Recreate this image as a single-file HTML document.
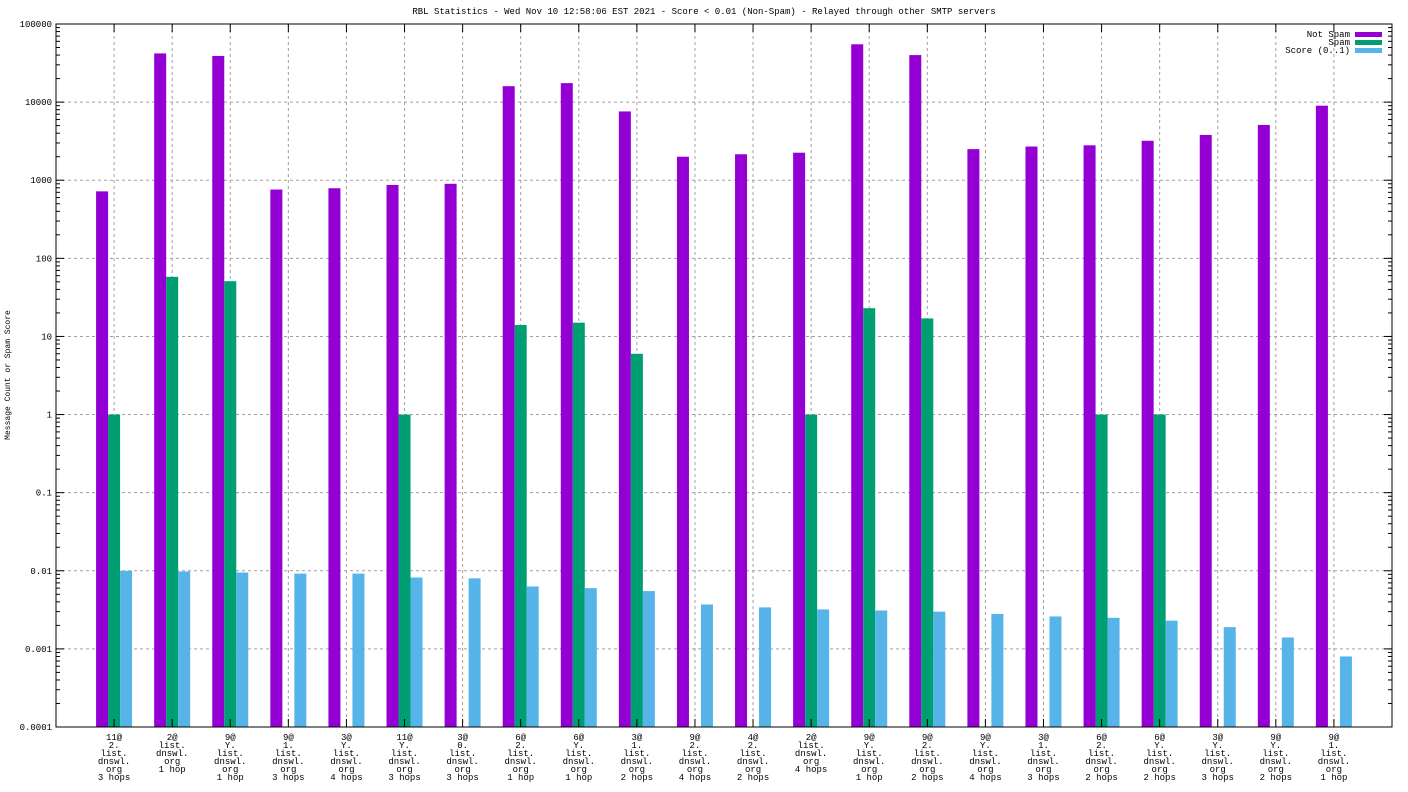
<!DOCTYPE html>
<html><head><meta charset="utf-8"><style>
body{margin:0;background:#fff}
svg{display:block;font-family:"Liberation Mono",monospace;font-size:9px}
</style></head><body>
<svg id="chart" width="1408" height="792" viewBox="0 0 1408 792" xmlns="http://www.w3.org/2000/svg">
<text x="704" y="14" text-anchor="middle">RBL Statistics - Wed Nov 10 12:58:06 EST 2021 - Score &lt; 0.01 (Non-Spam) - Relayed through other SMTP servers</text>
<text transform="translate(10,375) rotate(-90)" text-anchor="middle" font-size="8">Message Count or Spam Score</text>
<g id="grid"></g><g id="bars"></g><g id="axes"></g>
<g>
<text x="1350" y="37" text-anchor="end">Not Spam</text><rect x="1355" y="32" width="27" height="5" fill="#9400d3"/>
<text x="1350" y="45" text-anchor="end">Spam</text><rect x="1355" y="40" width="27" height="5" fill="#009e73"/>
<text x="1350" y="53" text-anchor="end">Score (0..1)</text><rect x="1355" y="48" width="27" height="5" fill="#56b4e9"/>
</g>
</svg>
<script>
const categories=[["11@","2.","list.","dnswl.","org","3 hops"],["2@","list.","dnswl.","org","1 hop"],["9@","Y.","list.","dnswl.","org","1 hop"],["9@","1.","list.","dnswl.","org","3 hops"],["3@","Y.","list.","dnswl.","org","4 hops"],["11@","Y.","list.","dnswl.","org","3 hops"],["3@","0.","list.","dnswl.","org","3 hops"],["6@","2.","list.","dnswl.","org","1 hop"],["6@","Y.","list.","dnswl.","org","1 hop"],["3@","1.","list.","dnswl.","org","2 hops"],["9@","2.","list.","dnswl.","org","4 hops"],["4@","2.","list.","dnswl.","org","2 hops"],["2@","list.","dnswl.","org","4 hops"],["9@","Y.","list.","dnswl.","org","1 hop"],["9@","2.","list.","dnswl.","org","2 hops"],["9@","Y.","list.","dnswl.","org","4 hops"],["3@","1.","list.","dnswl.","org","3 hops"],["6@","2.","list.","dnswl.","org","2 hops"],["6@","Y.","list.","dnswl.","org","2 hops"],["3@","Y.","list.","dnswl.","org","3 hops"],["9@","Y.","list.","dnswl.","org","2 hops"],["9@","1.","list.","dnswl.","org","1 hop"]];
const notSpam=[720,42000,39000,760,790,870,900,16000,17500,7600,2000,2150,2250,55000,40000,2500,2700,2800,3200,3800,5100,9000];
const spam=[1,58,51,0,0,1,0,14,15,6,0,0,1,23,17,0,0,1,1,0,0,0];
const score=[0.01,0.0098,0.0095,0.0092,0.0092,0.0082,0.008,0.0063,0.006,0.0055,0.0037,0.0034,0.0032,0.0031,0.003,0.0028,0.0026,0.0025,0.0023,0.0019,0.0014,0.0008];
const yTicks=["0.0001","0.001","0.01","0.1","1","10","100","1000","10000","100000"];
const NS="http://www.w3.org/2000/svg";
const L=56,R=1392,T=24,B=727;
const xs=i=>L+(R-L)/(categories.length+1)*(i+1);
const ys=v=>B-(Math.log10(v)+4)/9*(B-T);
function mk(tag,attrs,parent){const e=document.createElementNS(NS,tag);for(const k in attrs)e.setAttribute(k,attrs[k]);parent.appendChild(e);return e;}
const grid=document.getElementById('grid'),bars=document.getElementById('bars'),axes=document.getElementById('axes');
yTicks.forEach(t=>{const y=ys(parseFloat(t));
 const g=mk('line',{x1:L,x2:R,y1:y,y2:y,stroke:'#a0a0a0','stroke-dasharray':'3,3'},grid);
 
 
 const tx=mk('text',{x:L-4,y:y+3,'text-anchor':'end'},axes);tx.textContent=t;
 
 
 mk('line',{x1:L,x2:L+8,y1:y,y2:y,stroke:'#000'},axes);mk('line',{x1:R,x2:R-8,y1:y,y2:y,stroke:'#000'},axes);
 if(parseFloat(t)<100000)for(let m=2;m<10;m++){const ym=ys(parseFloat(t)*m);mk('line',{x1:L,x2:L+4,y1:ym,y2:ym,stroke:'#000'},axes);mk('line',{x1:R,x2:R-4,y1:ym,y2:ym,stroke:'#000'},axes);}
});
const cols=['#9400d3','#009e73','#56b4e9'],series=[notSpam,spam,score],names=['not-spam','spam','score'];
categories.forEach((c,i)=>{const x=xs(i);
 const g=mk('line',{x1:x,x2:x,y1:T,y2:B,stroke:'#a0a0a0','stroke-dasharray':'3,3'},grid);
 
 
 mk('line',{x1:x,x2:x,y1:B,y2:B-8,stroke:'#000'},axes);mk('line',{x1:x,x2:x,y1:T,y2:T+8,stroke:'#000'},axes);
 series.forEach((s,k)=>{const v=s[i];if(!(v>0))return;const y=ys(v);
  const r=mk('rect',{x:x-18+12*k,y:y,width:12,height:B-y,fill:cols[k]},bars);
  
  });
 const tx=mk('text',{x:x,y:740,'text-anchor':'middle'},axes);
 
 
 c.forEach((ln,j)=>{const ts=mk('tspan',{x:x,dy:j?8:0},tx);ts.textContent=ln;});
});
mk('rect',{x:L,y:T,width:R-L,height:B-T,fill:'none',stroke:'#000'},axes);
</script>
</body></html>
